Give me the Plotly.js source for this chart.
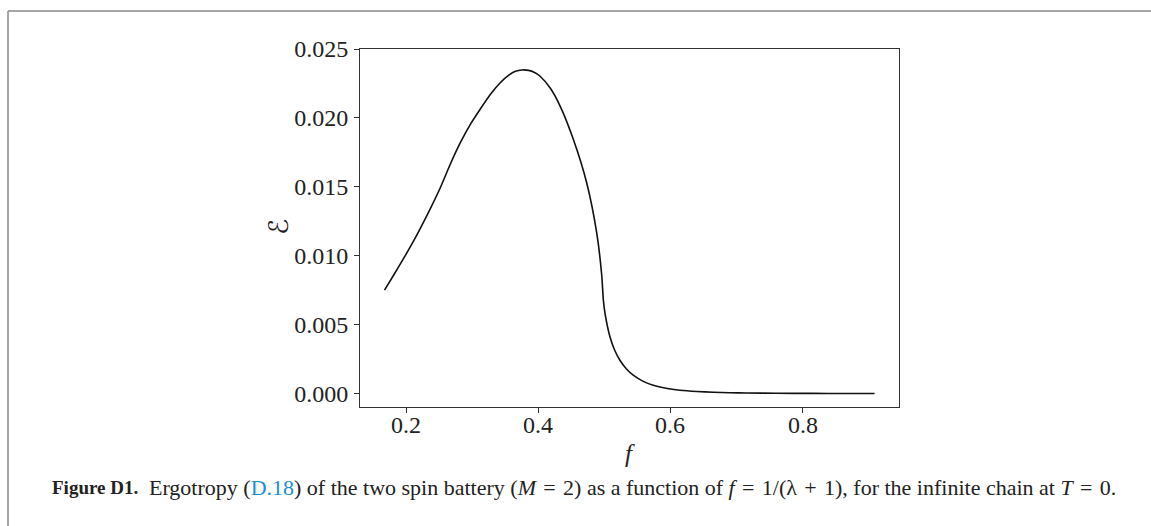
<!DOCTYPE html>
<html>
<head>
<meta charset="utf-8">
<script src="https://cdn.plot.ly/plotly-3.0.1.min.js"></script>
<style>
html,body{margin:0;padding:0;background:#fff;}
#chart{width:1151px;height:526px;}
</style>
</head>
<body>
<div id="chart"></div>
<script>
// f = 1/(lambda+1)
const fValues = [0.1667, 0.180, 0.195, 0.210, 0.2212, 0.236, 0.2514, 0.266, 0.2816, 0.297, 0.3119, 0.327, 0.3421, 0.355, 0.365, 0.3749, 0.385, 0.3940, 0.4021, 0.418, 0.4328, 0.4529, 0.4731, 0.4883, 0.4958, 0.4983, 0.5008, 0.5083, 0.515, 0.5234, 0.5330, 0.5436, 0.5580, 0.5738, 0.5930, 0.6142, 0.6400, 0.6646, 0.6900, 0.715, 0.760, 0.816, 0.860, 0.9091];
// ergotropy
const ergValues = [0.00750, 0.00855, 0.00975, 0.01100, 0.01200, 0.01340, 0.01495, 0.01660, 0.01820, 0.01955, 0.02065, 0.02170, 0.02255, 0.02310, 0.02338, 0.02348, 0.02345, 0.02330, 0.02304, 0.02215, 0.02086, 0.01843, 0.01528, 0.01164, 0.00860, 0.00679, 0.00582, 0.00412, 0.00320, 0.00242, 0.00180, 0.00133, 0.00090, 0.00060, 0.00038, 0.00024, 0.00015, 0.00010, 0.00006, 0.00004, 0.00002, 0.00001, 0.000005, 0.0];

const xTicks = [0.2, 0.4, 0.6, 0.8];
const xTickLabels = ["0.2", "0.4", "0.6", "0.8"];
const yTicks = [0.000, 0.005, 0.010, 0.015, 0.020, 0.025];
const yTickLabels = ["0.000", "0.005", "0.010", "0.015", "0.020", "0.025"];

const serif = "Liberation Serif, DejaVu Serif, serif";

const trace = {
  x: fValues, y: ergValues, type: 'scatter', mode: 'lines',
  line: {color: '#111', width: 1.6, shape: 'spline', smoothing: 0.6}, hoverinfo: 'skip', showlegend: false
};

// plot area: l=360, r=252, t=49, b=119 -> width 539, height 358
const W = 539, H = 358, L = 360, T = 49;
function px(x){ return (x - L) / W; }
function py(y){ return 1 - (y - T) / H; }

const sp = '\u2004';
const annotations = [
  {xref: 'paper', yref: 'paper', x: px(630), y: py(453), text: '<i>f</i>', showarrow: false,
   font: {family: serif, size: 25, color: '#222'}, xanchor: 'center', yanchor: 'middle'},
  {xref: 'paper', yref: 'paper', x: px(278), y: py(227), text: 'ℰ', showarrow: false, textangle: -90,
   font: {family: 'DejaVu Sans, Noto Sans, sans-serif', size: 27, color: '#222'}, xanchor: 'center', yanchor: 'middle'},
  {xref: 'paper', yref: 'paper', x: px(50), y: py(487), xanchor: 'left', yanchor: 'middle', showarrow: false,
   font: {family: serif, size: 19, color: '#222'}, text: '<b>Figure D1.</b>'},
  {xref: 'paper', yref: 'paper', x: px(147), y: py(487), xanchor: 'left', yanchor: 'middle', showarrow: false,
   font: {family: serif, size: 22, color: '#222'},
   text: 'Ergotropy (<span style="color:#1a8fd8">D.18</span>) of the two spin battery (<i>M</i>' + sp + '=' + sp + '2) as a function of <i>f</i>' + sp + '=' + sp + '1/(λ' + sp + '+' + sp + '1), for the infinite chain at <i>T</i>' + sp + '=' + sp + '0.'}
];
xTicks.forEach((v, i) => {
  annotations.push({xref: 'x', yref: 'paper', x: v, y: py(425), text: xTickLabels[i], showarrow: false,
    xanchor: 'center', yanchor: 'middle', font: {family: serif, size: 24, color: '#222'}});
});

const layout = {
  width: 1151, height: 526,
  margin: {l: 360, r: 252, t: 49, b: 119},
  paper_bgcolor: '#fff', plot_bgcolor: '#fff',
  showlegend: false,
  xaxis: {
    range: [0.1296, 0.9462], tickmode: 'array', tickvals: xTicks, ticktext: xTickLabels, showticklabels: false,
    showgrid: false, zeroline: false, showline: true, linecolor: '#333', linewidth: 1,
    mirror: true, ticks: 'outside', ticklen: 5, tickcolor: '#333', tickwidth: 1
  },
  yaxis: {
    range: [-0.000975, 0.025], tickmode: 'array', tickvals: yTicks, ticktext: yTickLabels,
    showgrid: false, zeroline: false, showline: true, linecolor: '#333', linewidth: 1,
    mirror: true, ticks: 'outside', ticklen: 5, tickcolor: '#333', tickwidth: 1,
    tickfont: {family: serif, size: 24, color: '#222'}, ticklabelstandoff: 1
  },
  shapes: [
    {type: 'line', xref: 'paper', yref: 'paper', x0: px(8), x1: px(1151), y0: py(11), y1: py(11), line: {color: '#888', width: 1.5}},
    {type: 'line', xref: 'paper', yref: 'paper', x0: px(8), x1: px(8), y0: py(11), y1: py(526), line: {color: '#888', width: 1.5}}
  ],
  annotations: annotations
};

Plotly.newPlot('chart', [trace], layout, {displayModeBar: false, staticPlot: true});
</script>
</body>
</html>
